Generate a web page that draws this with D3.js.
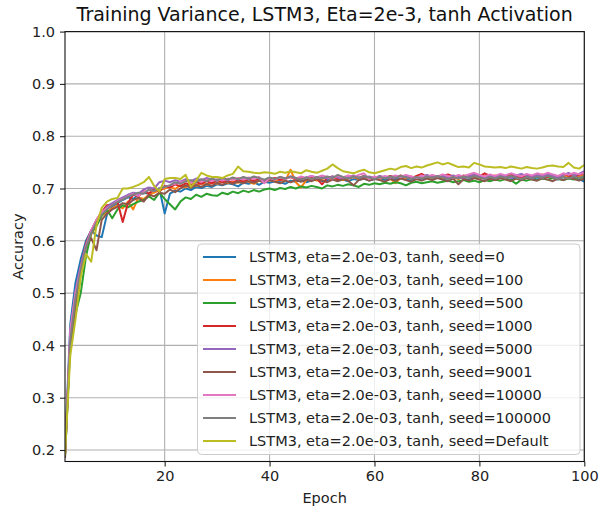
<!DOCTYPE html>
<html>
<head>
<meta charset="utf-8">
<script src="https://cdn.jsdelivr.net/npm/d3@7"></script>
<style>
  body { margin: 0; background: #fff; }
  svg { display: block; font-family: "DejaVu Sans", sans-serif; }
</style>
</head>
<body>
<svg width="600" height="510"></svg>
<script>
/* TRAINING VARIANCE LINE CHART */

// Epochs on the x axis
var epochs = d3.range(1, 101);

// Accuracy per epoch, one array per seed
var seed0 = [
  0.200, 0.440, 0.520, 0.565, 0.600, 0.620, 0.610, 0.607, 0.650, 0.665,
  0.672, 0.678, 0.683, 0.680, 0.688, 0.692, 0.690, 0.697, 0.700, 0.652,
  0.690, 0.696, 0.694, 0.700, 0.697, 0.703, 0.701, 0.705, 0.703, 0.708,
  0.706, 0.710, 0.708, 0.704, 0.711, 0.709, 0.712, 0.707, 0.713, 0.711,
  0.714, 0.712, 0.709, 0.715, 0.713, 0.716, 0.712, 0.715, 0.718, 0.714,
  0.716, 0.719, 0.715, 0.717, 0.714, 0.718, 0.716, 0.719, 0.715, 0.718,
  0.720, 0.716, 0.719, 0.717, 0.721, 0.718, 0.715, 0.720, 0.718, 0.721,
  0.719, 0.722, 0.717, 0.720, 0.718, 0.722, 0.719, 0.716, 0.721, 0.719,
  0.722, 0.718, 0.720, 0.723, 0.719, 0.716, 0.721, 0.719, 0.722, 0.718,
  0.721, 0.719, 0.723, 0.720, 0.717, 0.722, 0.719, 0.721, 0.718, 0.713
];
var seed100 = [
  0.190, 0.415, 0.495, 0.545, 0.585, 0.612, 0.630, 0.648, 0.655, 0.662,
  0.668, 0.662, 0.675, 0.660, 0.683, 0.680, 0.688, 0.692, 0.697, 0.700,
  0.703, 0.699, 0.706, 0.702, 0.708, 0.705, 0.710, 0.707, 0.712, 0.709,
  0.713, 0.710, 0.714, 0.711, 0.716, 0.713, 0.709, 0.715, 0.712, 0.716,
  0.714, 0.718, 0.715, 0.736, 0.712, 0.702, 0.716, 0.719, 0.715, 0.718,
  0.721, 0.717, 0.720, 0.716, 0.719, 0.722, 0.718, 0.721, 0.717, 0.720,
  0.718, 0.722, 0.719, 0.710, 0.721, 0.719, 0.723, 0.720, 0.724, 0.721,
  0.719, 0.723, 0.720, 0.724, 0.721, 0.718, 0.723, 0.726, 0.722, 0.720,
  0.724, 0.721, 0.725, 0.722, 0.719, 0.724, 0.721, 0.726, 0.723, 0.720,
  0.724, 0.727, 0.722, 0.725, 0.721, 0.724, 0.722, 0.726, 0.723, 0.725
];
var seed500 = [
  0.185, 0.400, 0.460, 0.500, 0.570, 0.615, 0.628, 0.648, 0.660, 0.643,
  0.660, 0.668, 0.664, 0.670, 0.675, 0.678, 0.685, 0.678, 0.692, 0.680,
  0.670, 0.660, 0.675, 0.683, 0.680, 0.688, 0.684, 0.690, 0.687, 0.686,
  0.692, 0.689, 0.694, 0.691, 0.696, 0.693, 0.697, 0.694, 0.698, 0.700,
  0.697, 0.701, 0.699, 0.703, 0.700, 0.704, 0.702, 0.705, 0.703, 0.700,
  0.706, 0.704, 0.707, 0.705, 0.708, 0.706, 0.703, 0.709, 0.707, 0.710,
  0.708, 0.711, 0.709, 0.712, 0.710, 0.706, 0.711, 0.713, 0.710, 0.712,
  0.714, 0.711, 0.713, 0.715, 0.712, 0.714, 0.716, 0.713, 0.715, 0.712,
  0.716, 0.714, 0.717, 0.715, 0.718, 0.716, 0.709, 0.717, 0.715, 0.718,
  0.716, 0.719, 0.717, 0.720, 0.718, 0.716, 0.719, 0.717, 0.720, 0.721
];
var seed1000 = [
  0.190, 0.410, 0.500, 0.550, 0.595, 0.620, 0.640, 0.655, 0.668, 0.670,
  0.675, 0.636, 0.672, 0.688, 0.685, 0.695, 0.690, 0.700, 0.694, 0.705,
  0.702, 0.708, 0.704, 0.710, 0.706, 0.712, 0.709, 0.714, 0.710, 0.716,
  0.712, 0.715, 0.710, 0.717, 0.713, 0.718, 0.714, 0.719, 0.715, 0.717,
  0.720, 0.716, 0.719, 0.722, 0.717, 0.721, 0.718, 0.722, 0.719, 0.708,
  0.720, 0.723, 0.718, 0.721, 0.719, 0.723, 0.720, 0.724, 0.721, 0.719,
  0.723, 0.720, 0.724, 0.721, 0.725, 0.722, 0.719, 0.724, 0.728, 0.722,
  0.725, 0.721, 0.724, 0.727, 0.723, 0.720, 0.725, 0.722, 0.726, 0.723,
  0.729, 0.724, 0.721, 0.726, 0.723, 0.727, 0.724, 0.721, 0.726, 0.723,
  0.727, 0.724, 0.722, 0.726, 0.723, 0.728, 0.725, 0.722, 0.726, 0.729
];
var seed5000 = [
  0.190, 0.420, 0.505, 0.552, 0.592, 0.618, 0.638, 0.652, 0.665, 0.672,
  0.678, 0.683, 0.688, 0.692, 0.690, 0.698, 0.702, 0.700, 0.712, 0.715,
  0.712, 0.716, 0.713, 0.718, 0.714, 0.719, 0.716, 0.720, 0.717, 0.715,
  0.719, 0.716, 0.720, 0.717, 0.721, 0.718, 0.722, 0.719, 0.716, 0.720,
  0.718, 0.722, 0.719, 0.723, 0.720, 0.717, 0.721, 0.724, 0.720, 0.722,
  0.719, 0.723, 0.721, 0.718, 0.722, 0.725, 0.721, 0.719, 0.723, 0.720,
  0.724, 0.721, 0.718, 0.723, 0.720, 0.724, 0.722, 0.719, 0.723, 0.726,
  0.722, 0.720, 0.724, 0.721, 0.725, 0.722, 0.719, 0.724, 0.727, 0.723,
  0.720, 0.725, 0.722, 0.726, 0.723, 0.720, 0.725, 0.728, 0.724, 0.721,
  0.726, 0.723, 0.727, 0.724, 0.721, 0.726, 0.730, 0.725, 0.728, 0.733
];
var seed9001 = [
  0.185, 0.405, 0.470, 0.540, 0.590, 0.605, 0.582, 0.640, 0.652, 0.660,
  0.665, 0.672, 0.670, 0.678, 0.682, 0.675, 0.688, 0.685, 0.692, 0.690,
  0.698, 0.693, 0.700, 0.706, 0.701, 0.707, 0.703, 0.709, 0.705, 0.711,
  0.707, 0.712, 0.709, 0.713, 0.710, 0.714, 0.711, 0.715, 0.712, 0.716,
  0.713, 0.710, 0.715, 0.712, 0.716, 0.713, 0.717, 0.714, 0.718, 0.715,
  0.712, 0.717, 0.714, 0.718, 0.715, 0.706, 0.716, 0.719, 0.715, 0.718,
  0.716, 0.713, 0.718, 0.715, 0.719, 0.716, 0.713, 0.718, 0.715, 0.719,
  0.716, 0.720, 0.717, 0.714, 0.719, 0.708, 0.718, 0.715, 0.720, 0.717,
  0.714, 0.719, 0.716, 0.720, 0.717, 0.714, 0.719, 0.716, 0.720, 0.717,
  0.715, 0.720, 0.717, 0.714, 0.719, 0.716, 0.721, 0.718, 0.715, 0.719
];
var seed10000 = [
  0.190, 0.430, 0.500, 0.548, 0.590, 0.620, 0.640, 0.655, 0.662, 0.668,
  0.676, 0.680, 0.685, 0.690, 0.686, 0.693, 0.697, 0.695, 0.700, 0.703,
  0.706, 0.709, 0.712, 0.715, 0.711, 0.716, 0.713, 0.717, 0.714, 0.718,
  0.715, 0.719, 0.716, 0.720, 0.717, 0.721, 0.718, 0.722, 0.710, 0.720,
  0.717, 0.721, 0.718, 0.722, 0.719, 0.723, 0.720, 0.724, 0.721, 0.725,
  0.722, 0.719, 0.724, 0.721, 0.725, 0.722, 0.726, 0.729, 0.718, 0.723,
  0.720, 0.724, 0.721, 0.725, 0.722, 0.726, 0.723, 0.720, 0.725, 0.722,
  0.726, 0.723, 0.727, 0.724, 0.721, 0.726, 0.723, 0.727, 0.730, 0.726,
  0.723, 0.727, 0.724, 0.728, 0.725, 0.729, 0.726, 0.723, 0.728, 0.725,
  0.729, 0.726, 0.730, 0.727, 0.724, 0.729, 0.726, 0.730, 0.727, 0.730
];
var seed100000 = [
  0.195, 0.410, 0.490, 0.545, 0.588, 0.615, 0.635, 0.650, 0.660, 0.668,
  0.674, 0.679, 0.684, 0.688, 0.692, 0.690, 0.698, 0.695, 0.700, 0.703,
  0.706, 0.712, 0.709, 0.714, 0.716, 0.712, 0.718, 0.714, 0.719, 0.716,
  0.720, 0.717, 0.721, 0.718, 0.722, 0.719, 0.723, 0.720, 0.717, 0.721,
  0.718, 0.722, 0.719, 0.723, 0.720, 0.717, 0.721, 0.718, 0.722, 0.719,
  0.723, 0.720, 0.726, 0.722, 0.719, 0.723, 0.720, 0.724, 0.721, 0.718,
  0.722, 0.719, 0.723, 0.720, 0.724, 0.721, 0.718, 0.722, 0.719, 0.723,
  0.720, 0.724, 0.721, 0.718, 0.722, 0.719, 0.723, 0.720, 0.724, 0.721,
  0.718, 0.722, 0.719, 0.723, 0.720, 0.724, 0.721, 0.718, 0.722, 0.719,
  0.723, 0.720, 0.724, 0.721, 0.718, 0.722, 0.719, 0.723, 0.720, 0.724
];
var seedDefault = [
  0.190, 0.380, 0.450, 0.530, 0.575, 0.560, 0.630, 0.663, 0.675, 0.680,
  0.682, 0.700, 0.700, 0.703, 0.707, 0.712, 0.722, 0.705, 0.694, 0.718,
  0.720, 0.720, 0.718, 0.726, 0.703, 0.715, 0.730, 0.725, 0.722, 0.722,
  0.720, 0.725, 0.728, 0.742, 0.733, 0.732, 0.730, 0.729, 0.731, 0.730,
  0.728, 0.732, 0.730, 0.733, 0.731, 0.729, 0.735, 0.732, 0.730, 0.734,
  0.738, 0.746, 0.739, 0.733, 0.731, 0.729, 0.733, 0.736, 0.731, 0.729,
  0.732, 0.735, 0.738, 0.736, 0.741, 0.743, 0.739, 0.742, 0.740, 0.744,
  0.747, 0.750, 0.746, 0.749, 0.745, 0.741, 0.742, 0.740, 0.749, 0.746,
  0.742, 0.741, 0.740, 0.741, 0.739, 0.742, 0.740, 0.738, 0.741, 0.739,
  0.738, 0.740, 0.743, 0.744, 0.742, 0.741, 0.749, 0.740, 0.738, 0.745
];

var seedNames = ['0', '100', '500', '1000', '5000', '9001', '10000', '100000', 'Default'];
var seriesValues = [seed0, seed100, seed500, seed1000, seed5000, seed9001, seed10000, seed100000, seedDefault];
var colors = ['#1f77b4', '#ff7f0e', '#2ca02c', '#d62728', '#9467bd', '#8c564b', '#e377c2', '#7f7f7f', '#bcbd22'];
var xTicks = [20, 40, 60, 80, 100];
var yTicks = [0.2, 0.3, 0.4, 0.5, 0.6, 0.7, 0.8, 0.9, 1.0];

var series = seedNames.map((s, i) => ({
  name: 'LSTM3, eta=2.0e-03, tanh, seed=' + s,
  color: colors[i],
  history: epochs.map((e, j) => ({epoch: e, acc: seriesValues[i][j]}))
}));

// Plot area (window.top is reserved, so use a box object)
var box = {left: 65, right: 584.3, top: 31.6, bottom: 461.5};
var x = d3.scaleLinear().domain([1, 100]).range([box.left, box.right]);
var y = d3.scaleLinear().domain([0.178, 1.0]).range([box.bottom, box.top]);
var line = d3.line().x(d => x(d.epoch)).y(d => y(d.acc));

var svg = d3.select('svg');

// Grid
svg.append('g').selectAll('line').data(xTicks).enter().append('line')
  .attr('x1', d => x(d)).attr('x2', d => x(d))
  .attr('y1', box.top).attr('y2', box.bottom)
  .attr('stroke', '#b0b0b0').attr('stroke-width', 1.1);
svg.append('g').selectAll('line').data(yTicks).enter().append('line')
  .attr('x1', box.left).attr('x2', box.right)
  .attr('y1', d => y(d)).attr('y2', d => y(d))
  .attr('stroke', '#b0b0b0').attr('stroke-width', 1.1);

// Lines
svg.append('defs').append('clipPath').attr('id', 'clip')
  .append('rect').attr('x', box.left).attr('y', box.top)
  .attr('width', box.right - box.left).attr('height', box.bottom - box.top);

svg.append('g').attr('clip-path', 'url(#clip)')
  .selectAll('path').data(series).enter()
  .append('path')
  .attr('fill', 'none')
  .attr('stroke', d => d.color)
  .attr('stroke-width', 2)
  .attr('stroke-linejoin', 'round')
  .attr('d', d => line(d.history));

// Axes
var xAxis = d3.axisBottom(x).tickValues(xTicks).tickSize(5).tickPadding(4).tickFormat(d3.format('d'));
var yAxis = d3.axisLeft(y).tickValues(yTicks).tickSize(5).tickPadding(5).tickFormat(d3.format('.1f'));

var gx = svg.append('g').attr('transform', 'translate(0,' + box.bottom + ')').call(xAxis);
var gy = svg.append('g').attr('transform', 'translate(' + box.left + ',0)').call(yAxis);
[gx, gy].forEach(g => {
  g.select('.domain').remove();
  g.selectAll('.tick line').attr('stroke', '#222').attr('stroke-width', 1.1);
  g.selectAll('.tick text').attr('fill', '#222')
    .style('font-family', '"DejaVu Sans", sans-serif').style('font-size', '14.5px');
});

// Frame
svg.append('rect')
  .attr('x', box.left).attr('y', box.top)
  .attr('width', box.right - box.left).attr('height', box.bottom - box.top)
  .attr('fill', 'none').attr('stroke', '#111').attr('stroke-width', 1.1);

// Titles
svg.append('text')
  .attr('x', (box.left + box.right) / 2).attr('y', 21)
  .attr('text-anchor', 'middle')
  .style('font-size', '19px').attr('fill', '#111')
  .text('Training Variance, LSTM3, Eta=2e-3, tanh Activation');

svg.append('text')
  .attr('x', (box.left + box.right) / 2).attr('y', 503)
  .attr('text-anchor', 'middle')
  .style('font-size', '14.5px').attr('fill', '#222')
  .text('Epoch');

svg.append('text')
  .attr('transform', 'translate(23,' + (box.top + box.bottom) / 2 + ') rotate(-90)')
  .attr('text-anchor', 'middle')
  .style('font-size', '14.5px').attr('fill', '#222')
  .text('Accuracy');

// Legend
var legend = svg.append('g');
legend.append('rect')
  .attr('x', 197.5).attr('y', 244)
  .attr('width', 382.5).attr('height', 210.5)
  .attr('rx', 4)
  .attr('fill', 'white').attr('fill-opacity', 0.8)
  .attr('stroke', '#cccccc').attr('stroke-width', 1);

var rows = legend.selectAll('g.row').data(series).enter()
  .append('g')
  .attr('transform', (d, i) => 'translate(0,' + (257 + i * 23) + ')');
rows.append('line')
  .attr('x1', 203).attr('x2', 236)
  .attr('stroke', d => d.color).attr('stroke-width', 2);
rows.append('text')
  .attr('x', 249)
  .attr('dy', '0.36em')
  .style('font-size', '14.5px').attr('fill', '#222')
  .text(d => d.name);
</script>
</body>
</html>
